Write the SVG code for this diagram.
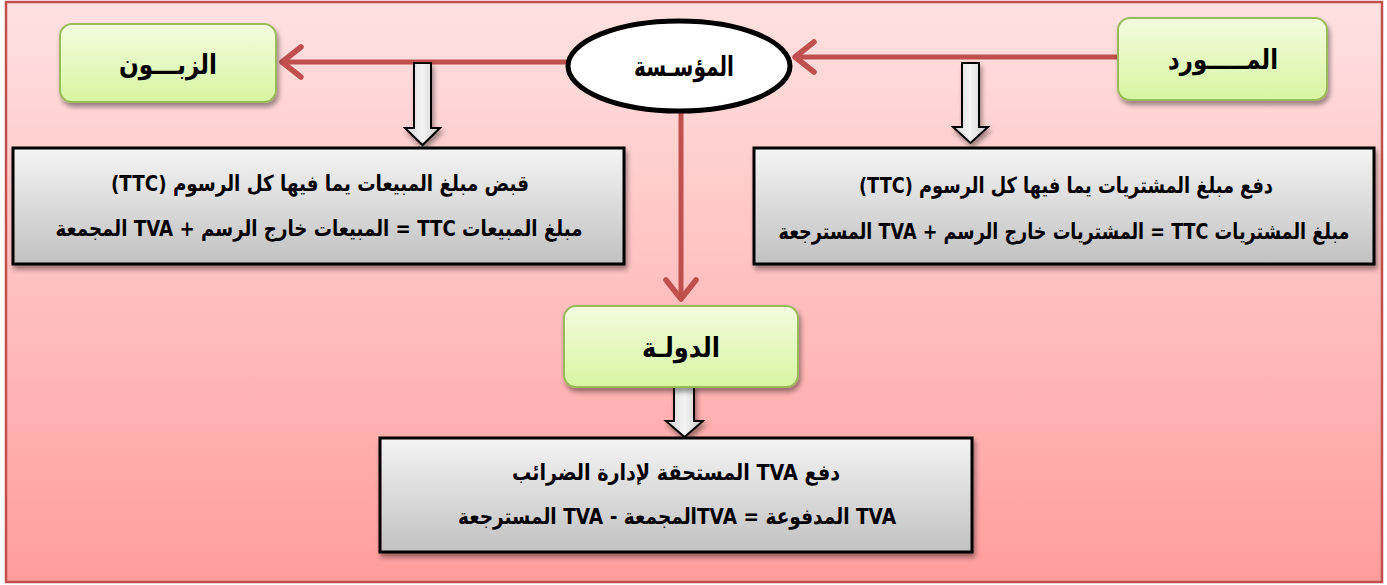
<svg xmlns="http://www.w3.org/2000/svg" width="1387" height="585" viewBox="0 0 1387 585">
<style>
.lbl{font-family:"DejaVu Sans","Noto Sans",sans-serif;font-weight:bold;fill:#000;}
.node{font-size:27px;}
.box{font-size:22px;}
.green{fill:url(#gGreen);stroke:#9bbb59;stroke-width:2;filter:url(#sh);}
.gray{fill:url(#gGray);stroke:#000;stroke-width:3;filter:url(#sh);}
.conn{stroke:#c0504d;stroke-width:5;fill:none;}
.blk{fill:url(#gBlk);stroke:#000;stroke-width:2;filter:url(#sh);}
</style>
<defs>
<linearGradient id="gBg" x1="0" y1="0" x2="0" y2="1">
<stop offset="0" stop-color="#ffe1e1"/>
<stop offset="1" stop-color="#ff9d9c"/>
</linearGradient>
<linearGradient id="gGreen" x1="0" y1="0" x2="0" y2="1">
<stop offset="0" stop-color="#f3fcdf"/>
<stop offset="1" stop-color="#d6f5a1"/>
</linearGradient>
<linearGradient id="gGray" x1="0" y1="0" x2="0" y2="1">
<stop offset="0" stop-color="#f4f4f4"/>
<stop offset="1" stop-color="#c1c1c1"/>
</linearGradient>
<linearGradient id="gBlk" x1="0" y1="0" x2="1" y2="0">
<stop offset="0" stop-color="#d4d4d4"/>
<stop offset="0.5" stop-color="#f4f4f4"/>
<stop offset="1" stop-color="#c8c8c8"/>
</linearGradient>
<filter id="sh" x="-10%" y="-10%" width="130%" height="140%">
<feGaussianBlur in="SourceAlpha" stdDeviation="2.5"/>
<feOffset dx="2" dy="4" result="b"/>
<feComponentTransfer><feFuncA type="linear" slope="0.4"/></feComponentTransfer>
<feMerge><feMergeNode/><feMergeNode in="SourceGraphic"/></feMerge>
</filter>
<marker id="ah" markerWidth="6" markerHeight="8" refX="4.6" refY="4" orient="auto" markerUnits="strokeWidth" viewBox="0 0 6 8">
<path d="M0.8,1 L4.6,4 L0.8,7" fill="none" stroke="#c0504d" stroke-width="1.1" stroke-linecap="round" stroke-linejoin="round"/>
</marker>
</defs>

<rect x="6" y="2" width="1376" height="580" fill="url(#gBg)" stroke="#c0504d" stroke-width="2.5"/>

<g id="connectors">
<line class="conn" x1="1118" y1="57" x2="795" y2="57" marker-end="url(#ah)"/>
<line class="conn" x1="567" y1="62" x2="282" y2="62" marker-end="url(#ah)"/>
<line class="conn" x1="681" y1="111" x2="681" y2="299" marker-end="url(#ah)"/>
<path class="blk" d="M414,63 H431 V128 H440 L422.5,145 L405,128 H414 Z"/>
<path class="blk" d="M962,63 H979 V127 H988 L970.5,143 L953,127 H962 Z"/>
<path class="blk" d="M674,386 H694 V421 H703 L684.5,437 L666,421 H674 Z"/>
</g>

<g id="customer">
<rect class="green" x="60" y="24" width="216" height="78" rx="12"/>
<text class="lbl node" x="168" y="74" text-anchor="middle" direction="rtl" textLength="98" lengthAdjust="spacingAndGlyphs">الزبـــون</text>
</g>

<g id="company">
<ellipse cx="679" cy="66" rx="111" ry="45" fill="#fff" stroke="#000" stroke-width="5"/>
<text class="lbl node" x="684" y="76" text-anchor="middle" direction="rtl" textLength="100" lengthAdjust="spacingAndGlyphs">المؤسـسة</text>
</g>

<g id="supplier">
<rect class="green" x="1118" y="18" width="209" height="82" rx="12"/>
<text class="lbl node" x="1223" y="69" text-anchor="middle" direction="rtl" textLength="110" lengthAdjust="spacingAndGlyphs">المـــــورد</text>
</g>

<g id="state">
<rect class="green" x="564" y="306" width="234" height="81" rx="12"/>
<text class="lbl node" x="681" y="357" text-anchor="middle" direction="rtl" textLength="78" lengthAdjust="spacingAndGlyphs">الدولـة</text>
</g>

<g id="sales-box">
<rect class="gray" x="13" y="148" width="611" height="116"/>
<text class="lbl box" x="320" y="191" text-anchor="middle" direction="rtl" textLength="418" lengthAdjust="spacingAndGlyphs">قبض مبلغ المبيعات يما فيها كل الرسوم (TTC)</text>
<text class="lbl box" x="319" y="236" text-anchor="middle" direction="rtl" textLength="527" lengthAdjust="spacingAndGlyphs">مبلغ المبيعات TTC = المبيعات خارج الرسم + TVA المجمعة</text>
</g>

<g id="purchases-box">
<rect class="gray" x="754" y="148" width="620" height="116"/>
<text class="lbl box" x="1066" y="193" text-anchor="middle" direction="rtl" textLength="414" lengthAdjust="spacingAndGlyphs">دفع مبلغ المشتريات يما فيها كل الرسوم (TTC)</text>
<text class="lbl box" x="1064" y="239" text-anchor="middle" direction="rtl" textLength="571" lengthAdjust="spacingAndGlyphs">مبلغ المشتريات TTC = المشتريات خارج الرسم + TVA المسترجعة</text>
</g>

<g id="tax-box">
<rect class="gray" x="380" y="438" width="592" height="114"/>
<text class="lbl box" x="676" y="480" text-anchor="middle" direction="rtl" textLength="328" lengthAdjust="spacingAndGlyphs">دفع TVA المستحقة لإدارة الضرائب</text>
<text class="lbl box" x="677" y="524" text-anchor="middle" direction="rtl" textLength="438" lengthAdjust="spacingAndGlyphs">TVA المدفوعة = TVAالمجمعة - TVA المسترجعة</text>
</g>
</svg>
